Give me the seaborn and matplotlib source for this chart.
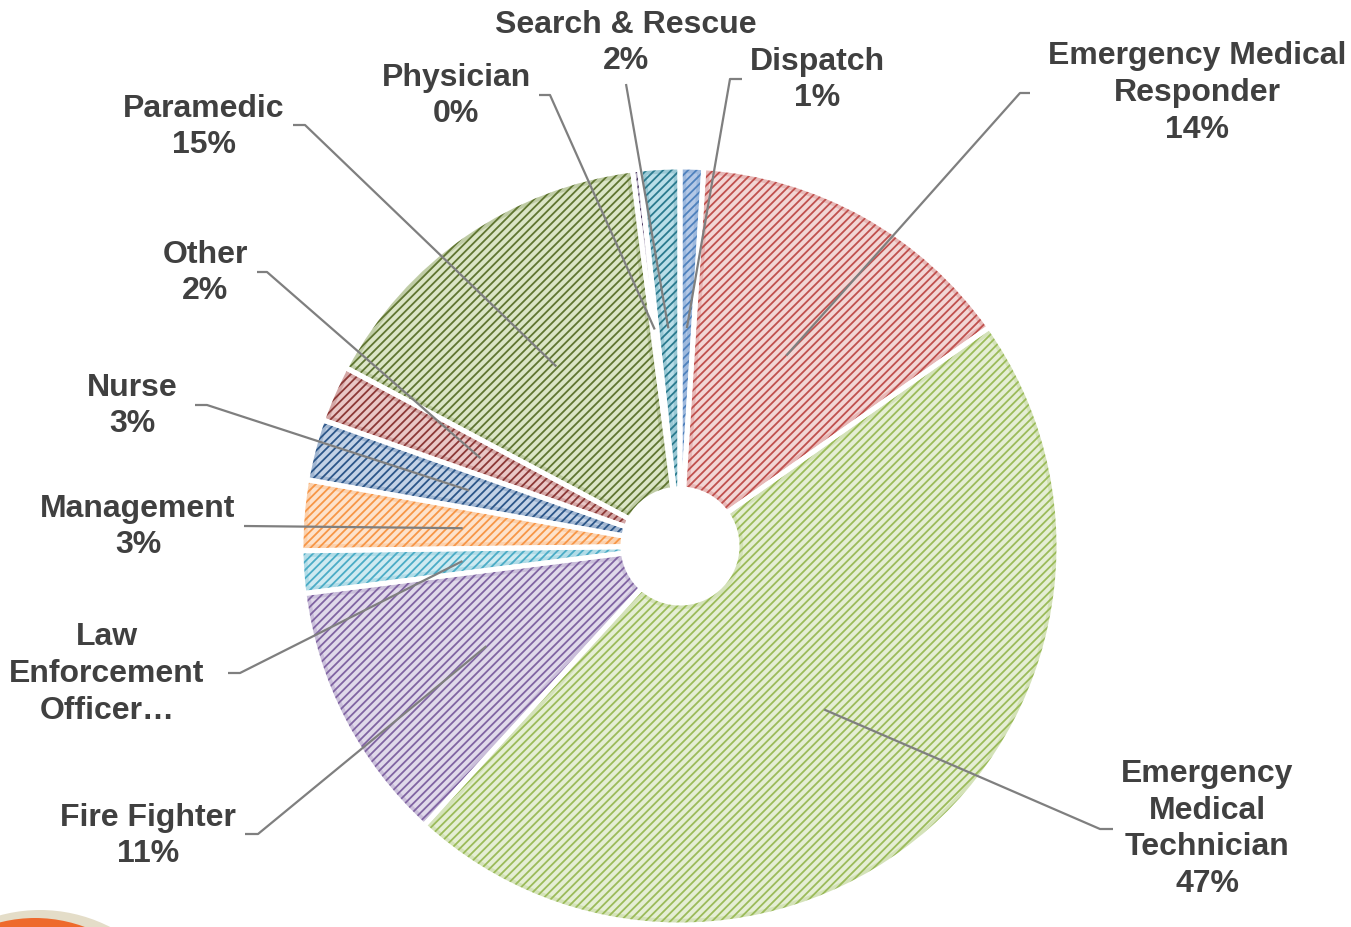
import numpy as np
import matplotlib
matplotlib.use("Agg")
import matplotlib.pyplot as plt
from matplotlib.patches import Ellipse, Wedge
import seaborn as sns

# ---- data ----
categories = ["Dispatch", "Emergency Medical Responder", "Emergency Medical Technician",
              "Fire Fighter", "Law Enforcement Officer", "Management", "Nurse", "Other",
              "Paramedic", "Physician", "Search & Rescue"]
values = [1.0, 14.2, 46.6, 11.2, 1.8, 3.0, 2.6, 2.4, 15.2, 0.3, 1.7]
label_names = ["Dispatch", "Emergency Medical\nResponder", "Emergency\nMedical\nTechnician",
               "Fire Fighter", "Law\nEnforcement\nOfficer\u2026", "Management", "Nurse", "Other",
               "Paramedic", "Physician", "Search & Rescue"]
show_pct = [True, True, True, True, False, True, True, True, True, True, True]

hatch_colors = ["#4F81BD", "#C0504D", "#9BBB59", "#8064A2", "#4BACC6", "#F79646",
                "#2C5689", "#8C3836", "#5F7530", "#4D3B62", "#2A7A8E"]
face_colors = ["#B4C8E6", "#F2D6D5", "#E5EED4", "#E0D9EA", "#CFEAF1", "#FDE2CB",
               "#C3D2E6", "#E9C7C6", "#DBE5C6", "#D9D2E3", "#B9DEE8"]

# ---- layout (pixel coordinates of the 1351x927 canvas, y from top) ----
W, H = 1351, 927
CX, CY, R, HOLE = 680, 546, 379, 57
ANCHOR_R = 218
# text center x, y ; elbow x, y ; horizontal end x
label_layout = [
    (817, 80, 730, 79, 742),
    (1197, 93, 1020, 93, 1030),
    (1207, 829, 1100, 829, 1113),
    (148, 836, 258, 834, 245),
    (107, 674, 240, 673, 228),
    (138, 527, 244, 526, 244),
    (132, 406, 207, 405, 195),
    (205, 273, 267, 272, 257),
    (204, 127, 305, 125, 293),
    (456, 96, 550, 95, 539),
    (626, 43, 626, 84, 626),
]

sns.set_theme(style="white")
plt.rcParams["font.family"] = ["Liberation Sans", "DejaVu Sans"]
plt.rcParams["hatch.linewidth"] = 1.3

fig = plt.figure(figsize=(W / 100, H / 100), dpi=100)
ax = fig.add_axes([0, 0, 1, 1])

def Y(py):
    return H - py

wedges, _ = ax.pie(values, colors=face_colors, startangle=90, counterclock=False,
                   center=(CX, Y(CY)), radius=R,
                   wedgeprops=dict(width=R - HOLE, linewidth=0))
for w, hc in zip(wedges, hatch_colors):
    w.set_hatch("////")
    w.set_edgecolor(hc)
    w.set_linewidth(0)

# inner soft edge shading, clipped to each wedge
for w, hc in zip(wedges, hatch_colors):
    shade = Wedge(w.center, w.r, w.theta1, w.theta2, width=w.width,
                  facecolor="none", edgecolor=hc, linewidth=9, alpha=0.22)
    ax.add_patch(shade)
    shade.set_clip_path(w)

# white separators
sep, _ = ax.pie(values, colors=["none"] * len(values), startangle=90, counterclock=False,
                center=(CX, Y(CY)), radius=R,
                wedgeprops=dict(width=R - HOLE, linewidth=3.6, edgecolor="white"))

# leader lines and labels
for w, v, name, sp, lay in zip(wedges, values, label_names, show_pct, label_layout):
    tx, ty, ex, ey, hx = lay
    mid = np.deg2rad((w.theta1 + w.theta2) / 2)
    ax_x = CX + ANCHOR_R * np.cos(mid)
    ax_y = Y(CY) + ANCHOR_R * np.sin(mid)
    ax.plot([ax_x, ex, hx], [ax_y, Y(ey), Y(ey)], color="#7F7F7F", lw=1.6,
            solid_capstyle="butt", zorder=5)
    txt = name + (f"\n{round(v)}%" if sp else "")
    ax.text(tx, Y(ty), txt, ha="center", va="center", multialignment="center",
            fontsize=23, fontweight="bold", color="#404040", linespacing=1.3, zorder=6)

# decorative slide corner
ax.add_patch(Ellipse((40, Y(1100)), 340, 380, facecolor="#E4DDC8", edgecolor="none", zorder=1))
ax.add_patch(Ellipse((35, Y(1110)), 330, 384, facecolor="#EE6A2C", edgecolor="none", zorder=1))

ax.set_xlim(0, W)
ax.set_ylim(0, H)
ax.set_aspect("equal")
ax.axis("off")
fig.savefig("out.png", dpi=100, facecolor="white")
